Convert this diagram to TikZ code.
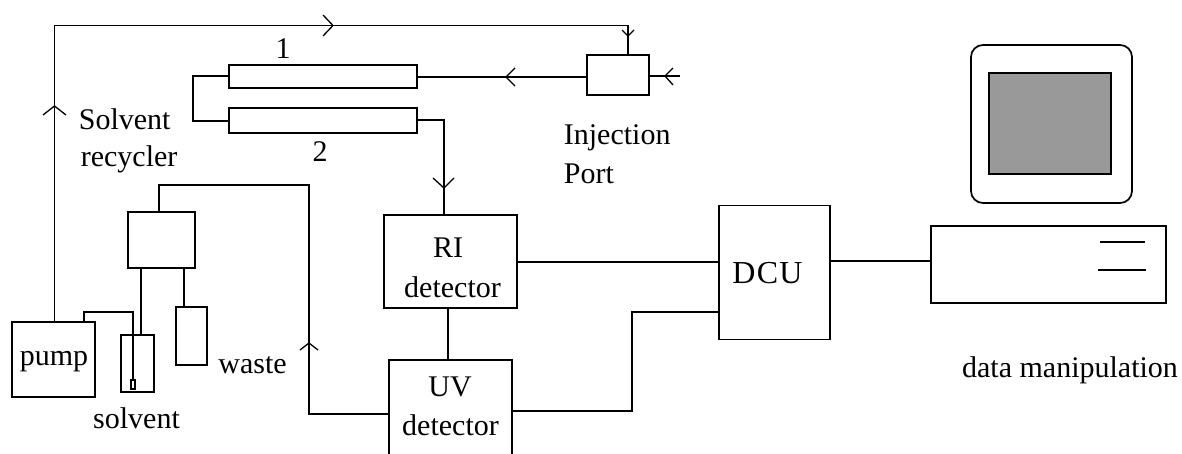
\documentclass[tikz,border=0pt]{standalone}
\usepackage{fontspec}
\setmainfont{Liberation Serif}
\newfontfamily\spaced[LetterSpace=4]{Liberation Serif}
\begin{document}
\begin{tikzpicture}[x=1pt,y=-1pt,line width=1.7pt,
  txt/.style={font=\fontsize{30}{30}\selectfont,anchor=base,inner sep=0pt,text=black},
  wing/.style={line width=1.3pt}]
\useasboundingbox (0,0) rectangle (1182,454);
\tikzset{rbox/.style args={#1/#2}{draw=black,line width=1.7pt,rectangle,minimum width=#1,minimum height=#2,inner sep=0pt,outer sep=0pt}}
% boxes
\node[rbox=83pt/75pt] (pump) at (53.5,359.5) {};
\node[rbox=67pt/56pt] (recycler) at (161.5,240) {};
\node[rbox=33pt/57pt] (solvent) at (137.5,363.5) {};
\node[rbox=31pt/58pt] (waste) at (191.5,336) {};
\node[rbox=4pt/9pt] (filter) at (133,384.5) {};
\node[rbox=188pt/23pt] (colA) at (323,76.5) {};
\node[rbox=188pt/25pt] (colB) at (323,120.5) {};
\node[rbox=62pt/40pt] (port) at (618,75) {};
\node[rbox=133pt/93pt] (ri) at (450.5,261.5) {};
\node[rbox=111pt/134pt] (dcu) at (774.5,272.5) {};
\node[rbox=235pt/77pt] (cpu) at (1048.5,264.5) {};
\node[draw=black,fill=black!40,line width=1.7pt,minimum width=122pt,minimum height=101pt,inner sep=0pt] (screen) at (1050,123.5) {};
% UV detector: open at the page's lower edge
\coordinate (uvNW) at (389,360);
\coordinate (uvNE) at (512,360);
\coordinate (uvSW) at (389,454);
\coordinate (uvSE) at (512,454);
\draw (uvSW) -- (uvNW) -- (uvNE) -- (uvSE);
% monitor
\draw[rounded corners=12pt] (971,45) rectangle (1132,203);
% free ends
\coordinate (inlet) at (680,76);
\coordinate (bend) at (628,25.5);
\coordinate (bendL) at (54.5,25.5);
% connectors
\draw (54.5,322) -- (bendL) -- (bend) -- (628,55);
\draw (colA.west |- 0,76) -- (193,76) -- (193,121) -- (colB.west |- 0,121);
\draw (colA.east |- 0,77) -- (port.west |- 0,77);
\draw (port.east |- 0,76) -- (inlet);
\draw (colB.east |- 0,120) -- (444,120) -- (444,215);
\draw (448,308) -- (448,360);
\draw (ri.east |- 0,262) -- (dcu.west |- 0,262);
\draw (512,411) -- (632,411) -- (632,312) -- (dcu.west |- 0,312);
\draw (dcu.east |- 0,261) -- (cpu.west |- 0,261);
\draw (159,212) -- (159,185) -- (309,185) -- (309,414) -- (389,414);
\draw (141,268) -- (141,335);
\draw (184,268) -- (184,307);
\draw (84,322) -- (84,312) -- (133,312) -- (133,380);
\draw (1100,242) -- (1145,242);
\draw (1098,270) -- (1146,270);
% arrowheads
\draw[wing] (323,15) -- (333,25.5) -- (323,36);
\draw[wing] (622,30) -- (628,36) -- (634,30);
\draw[wing] (515,68) -- (506,77) -- (515,86);
\draw[wing] (673,68) -- (665,76) -- (673,85);
\draw[wing] (433,178) -- (444,188) -- (454,178);
\draw[wing] (300,350) -- (309,343) -- (318,350);
\draw[wing] (43,115) -- (54.5,106) -- (66,115);
% text
\node[txt] (lpump) at (54,365) {pump};
\node[txt] (lwaste) at (252.5,373) {waste};
\node[txt] (lsolv) at (136.5,428) {solvent};
\node[txt] (lone) at (283,59) {1};
\node[txt] (ltwo) at (320,162) {2};
\node[txt,anchor=base west] (linj) at (563,145) {Injection};
\node[txt,anchor=base west] (lprt) at (563,184) {Port};
\node[txt,anchor=base west] (lsr) at (78,130) {Solvent};
\node[txt,anchor=base west] (lrc) at (80,167) {recycler};
\node[txt] (lri) at (448,257) {RI};
\node[txt] (lrid) at (452.5,297) {detector};
\node[txt] (luv) at (450,396) {UV};
\node[txt] (luvd) at (450.5,435) {detector};
\node[txt,font=\fontsize{32}{32}\selectfont] (ldcu) at (767.5,283) {\spaced DCU};
\node[txt] (ldm) at (1070,377) {data manipulation};
\end{tikzpicture}
\end{document}
